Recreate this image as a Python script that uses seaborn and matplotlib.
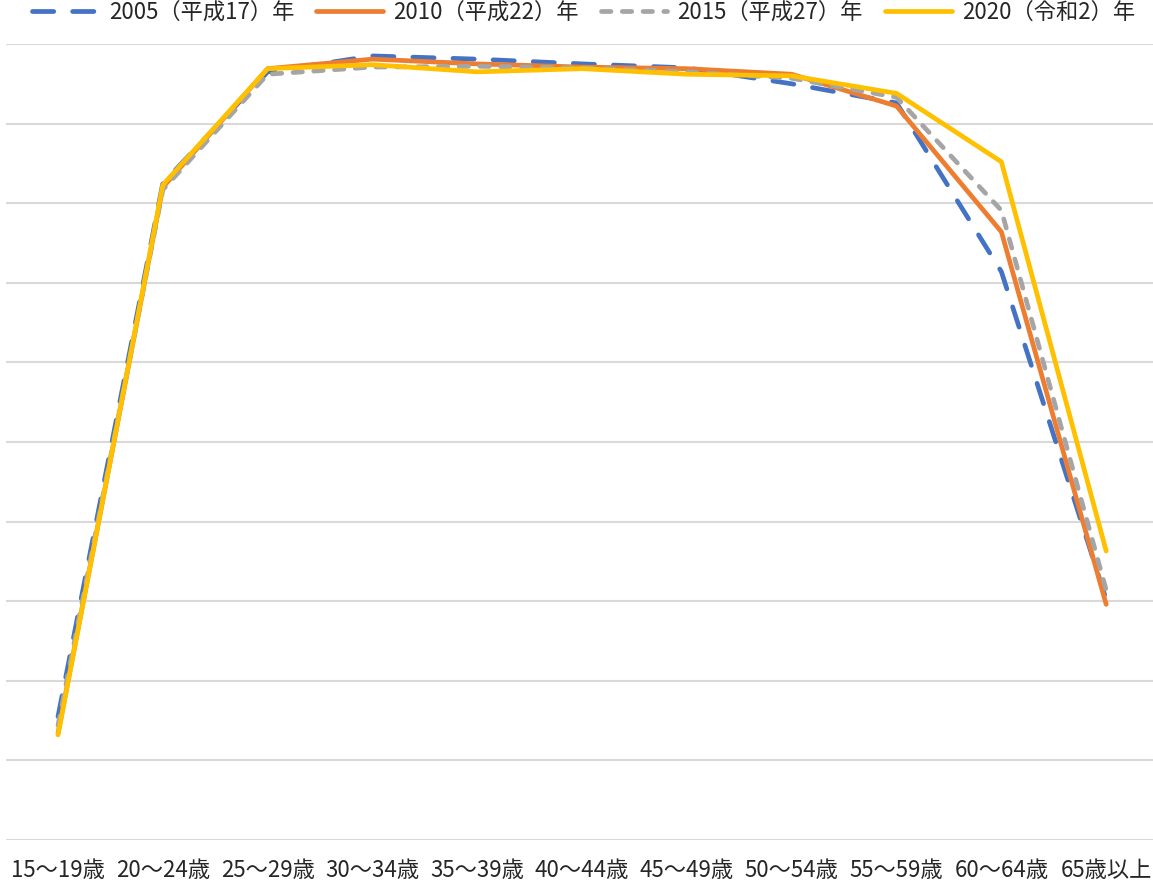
import pandas as pd
import numpy as np
import matplotlib.pyplot as plt
from matplotlib.lines import Line2D
import seaborn as sns

# -----------------------------
# Data
# -----------------------------
age_groups = ["15～19歳", "20～24歳", "25～29歳", "30～34歳", "35～39歳", "40～44歳",
              "45～49歳", "50～54歳", "55～59歳", "60～64歳", "65歳以上"]
years = ["2005（平成17）年", "2010（平成22）年", "2015（平成27）年", "2020（令和2）年"]

rate_2005 = [15.5, 82.5, 96.5, 98.5, 98.1, 97.5, 97.0, 95.0, 92.6, 71.4, 30.2]
rate_2010 = [13.4, 82.0, 96.9, 98.1, 97.5, 97.1, 96.9, 96.2, 92.2, 76.4, 29.6]
rate_2015 = [14.4, 81.7, 96.2, 97.1, 97.2, 97.0, 96.5, 95.7, 93.3, 79.1, 31.4]
rate_2020 = [13.2, 82.3, 96.9, 97.4, 96.5, 96.9, 96.2, 96.0, 93.8, 85.2, 36.3]

df = pd.DataFrame({
    "age": age_groups * 4,
    "year": np.repeat(years, len(age_groups)),
    "rate": rate_2005 + rate_2010 + rate_2015 + rate_2020,
})

# -----------------------------
# Style
# -----------------------------
sns.set_theme(style="white")
plt.rcParams["font.family"] = ["Noto Sans CJK JP", "DejaVu Sans"]

colors = ["#4472C4", "#ED7D31", "#A5A5A5", "#FFC000"]
palette = dict(zip(years, colors))
dash_list = [(4.5, 4.0), "", (2.0, 2.4), ""]
dashes = dict(zip(years, dash_list))
lw = 3.4

fig = plt.figure(figsize=(11.53, 8.83), dpi=100)
ax = fig.add_axes([5.6 / 1153, (883 - 840) / 883, 1153 / 1153, (840 - 44) / 883])

sns.lineplot(data=df, x="age", y="rate", hue="year", style="year",
             palette=palette, dashes=dashes, linewidth=lw, sort=False,
             ax=ax, legend=False)

for line in ax.get_lines():
    line.set_dash_capstyle("round")
    line.set_solid_capstyle("round")

ax.set_xlim(-0.5, len(age_groups) - 0.5)
ax.set_ylim(0, 100)
ax.set_yticks(np.arange(0, 101, 10))
ax.set_yticklabels([])
ax.tick_params(axis="y", length=0)
ax.tick_params(axis="x", length=0, labelsize=16, pad=14)
ax.grid(axis="y", color="#D9D9D9", linewidth=1.5)
ax.set_axisbelow(True)
for s in ax.spines.values():
    s.set_visible(False)
ax.set_xlabel("")
ax.set_ylabel("")

# legend at the very top
handles = []
for c, d in zip(colors, dash_list):
    h = Line2D([], [], color=c, linewidth=lw, dash_capstyle="round")
    if d:
        h.set_dashes(d)
    handles.append(h)
fig.legend(handles, years, loc="center", bbox_to_anchor=(0.506, 1 - 12 / 883), ncol=4,
           frameon=False, fontsize=16, handlelength=3.0, columnspacing=1.0,
           handletextpad=0.45, borderpad=0, borderaxespad=0)

fig.savefig("out.png", dpi=100)
